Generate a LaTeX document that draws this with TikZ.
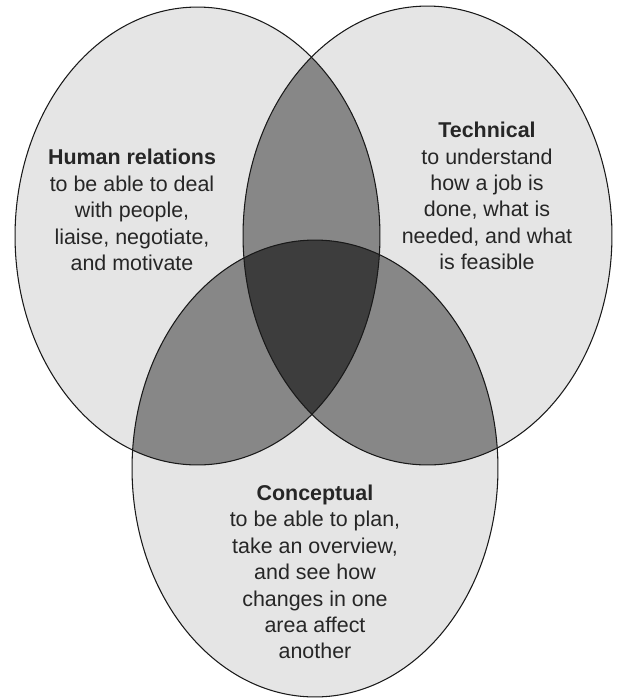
\documentclass[tikz,border=0pt]{standalone}
\usepackage{fontspec}
\setmainfont{Liberation Sans}
\tikzset{>=stealth}
\tikzset{
    skill/.style = {align=center, text=black!85, font=\fontsize{12.2}{15}\selectfont},
    rim/.style = {line width=0.6pt, draw=black!90},
    single/.style = {fill=black!10},
    double/.style = {fill=black!47},
    triple/.style = {fill=black!76}
}
\newcommand{\humanring}{(197.5,236) ellipse [x radius=3.65cm, y radius=4.58cm]}
\newcommand{\techring}{(427.5,235.5) ellipse [x radius=3.69cm, y radius=4.59cm]}
\newcommand{\conceptring}{(315,468.5) ellipse [x radius=3.66cm, y radius=4.57cm]}

\begin{document}
\begin{tikzpicture}[x=0.02cm, y=-0.02cm]
    \useasboundingbox (0,0) rectangle (620,698);
    \fill[white] (0,0) rectangle (620,698);
    \fill[single] \humanring;
    \fill[single] \techring;
    \fill[single] \conceptring;
    \begin{scope}
        \clip \humanring;
        \fill[double] \techring;
        \fill[double] \conceptring;
    \end{scope}
    \begin{scope}
        \clip \techring;
        \fill[double] \conceptring;
    \end{scope}
    \begin{scope}
        \clip \humanring;
        \clip \techring;
        \fill[triple] \conceptring;
    \end{scope}
    \draw[rim] \humanring;
    \draw[rim] \techring;
    \draw[rim] \conceptring;
    \node[skill] (human) at (132,210) {\textbf{Human relations}\\to be able to deal\\with people,\\liaise, negotiate,\\and motivate};
    \node[skill] (tech) at (487,196) {\textbf{Technical}\\to understand\\how a job is\\done, what is\\needed, and what\\is feasible};
    \node[skill] (concept) at (315,572) {\textbf{Conceptual}\\to be able to plan,\\take an overview,\\and see how\\changes in one\\area affect\\another};
\end{tikzpicture}
\end{document}
